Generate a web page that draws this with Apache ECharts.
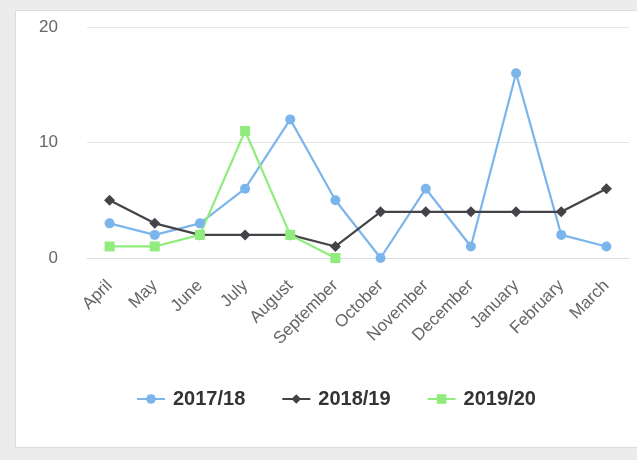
<!DOCTYPE html>
<html><head><meta charset="utf-8">
<script src="https://cdn.jsdelivr.net/npm/echarts@6/dist/echarts.min.js"></script>
<style>
html,body{margin:0;padding:0;background:#ececec;width:637px;height:460px;overflow:hidden;}
#card{position:absolute;left:15px;top:10px;width:640px;height:438px;background:#fff;border:1px solid #dcdcdc;box-sizing:border-box;}
#chart{position:absolute;left:0;top:0;width:637px;height:460px;}
</style></head>
<body>
<div id="card"></div>
<div id="chart"></div>
<script>
const categories = ['April','May','June','July','August','September','October','November','December','January','February','March'];
const s2017 = [3,2,3,6,12,5,0,6,1,16,2,1];
const s2018 = [5,3,2,2,2,1,4,4,4,4,4,6];
const s2019 = [1,1,2,11,2,0];
const seriesNames = ['2017/18','2018/19','2019/20'];
const yTicks = [0,10,20];

const chart = echarts.init(document.getElementById('chart'));
const colors = ['#7cb5ec','#434348','#90ed7d'];
const symbols = ['circle','diamond','rect'];
const sizes = [10,11,10];
const data = [s2017, s2018, s2019];
const font = 'Liberation Sans, Arial, sans-serif';
chart.setOption({
  animation:false,
  backgroundColor:'transparent',
  color: colors,
  grid:{left:87,right:8,top:27,bottom:202},
  legend:{
    left:131, top:384, itemGap:36, itemWidth:28, itemHeight:12,
    textStyle:{fontFamily:font,fontSize:20,fontWeight:'bold',color:'#333',padding:[0,0,0,3]},
    data: seriesNames
  },
  xAxis:{
    type:'category', data:categories, boundaryGap:true,
    axisLine:{show:true,lineStyle:{color:'#d8dde6',width:1}},
    axisTick:{show:false},
    axisLabel:{rotate:45, interval:0, margin:25, color:'#666', fontSize:17, fontFamily:font}
  },
  yAxis:{
    type:'value', min:0, max:20, interval:10,
    axisLine:{show:false}, axisTick:{show:false},
    splitLine:{lineStyle:{color:'#e6e6e6',width:1}},
    axisLabel:{margin:29, color:'#666', fontSize:17, fontFamily:font}
  },
  series: data.map((d,i)=>({
    name: seriesNames[i], type:'line', data:d,
    symbol: symbols[i], symbolSize: sizes[i], showSymbol:true,
    lineStyle:{width:2.2,color:colors[i]}, itemStyle:{color:colors[i]}
  }))
});
</script>
</body></html>
